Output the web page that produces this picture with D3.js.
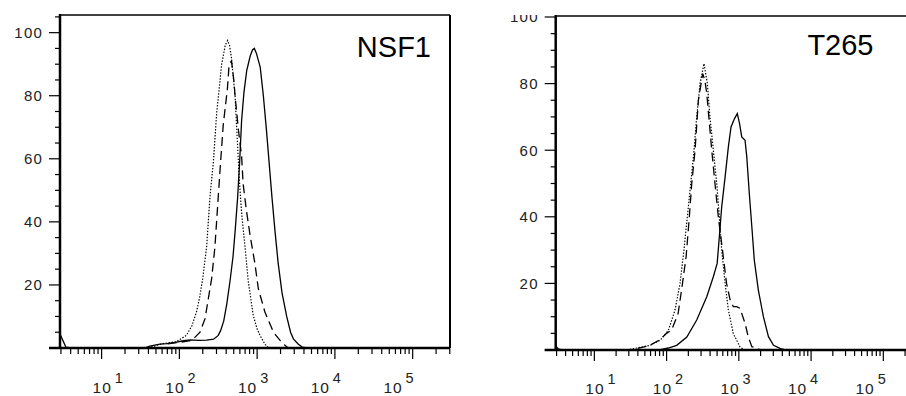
<!DOCTYPE html>
<html>
<head>
<meta charset="utf-8">
<script src="https://cdn.jsdelivr.net/npm/d3@7"></script>
<style>
  html, body { margin: 0; padding: 0; background: #fff; }
  svg { display: block; }
</style>
</head>
<body>
<script>
// ---------------- DATA (x = log10 fluorescence, y = % of max) ----------------
const xTickExponents = [1, 2, 3, 4, 5];
const yTickLabels = [20, 40, 60, 80, 100];
const panelTitles = ["NSF1", "T265"];

const nsf1Solid = [
  [0.463, 4.5], [0.50, 2.5], [0.54, 0.3], [0.60, 0], [1.55, 0], [1.62, 0.6], [1.75, 1.2],
  [1.84, 1.4], [1.95, 1.8], [2.05, 2.3], [2.14, 2.6], [2.25, 2.4], [2.35, 2.5], [2.44, 2.8],
  [2.50, 4.0], [2.53, 5.5], [2.57, 8.5], [2.61, 14], [2.65, 21], [2.69, 29], [2.72, 38],
  [2.75, 48], [2.775, 59], [2.80, 72], [2.83, 81], [2.866, 88], [2.91, 92.5], [2.94, 94.5],
  [2.964, 95], [2.99, 93.5], [3.04, 89], [3.08, 80], [3.12, 69], [3.19, 48], [3.23, 37],
  [3.27, 27], [3.32, 17.5], [3.38, 10], [3.43, 5], [3.466, 2.9], [3.53, 1.2], [3.58, 0.3], [3.65, 0]
];
const nsf1Dashed = [
  [1.85, 1.3], [2.0, 1.8], [2.16, 2.4], [2.265, 5], [2.33, 9.3], [2.415, 22], [2.457, 32],
  [2.50, 48], [2.53, 59], [2.565, 71], [2.617, 82], [2.64, 90], [2.67, 91], [2.70, 85],
  [2.716, 80], [2.76, 69], [2.80, 61], [2.82, 52], [2.86, 44], [2.91, 35.6], [2.97, 27],
  [3.016, 18.7], [3.10, 11.4], [3.21, 5], [3.295, 2.4], [3.35, 1], [3.40, 0]
];
const nsf1Dotted = [
  [1.60, 0], [1.70, 0.8], [1.79, 1.4], [1.96, 2.0], [2.09, 4.0], [2.16, 7], [2.22, 11.4],
  [2.26, 16], [2.30, 22], [2.35, 32], [2.394, 48], [2.437, 59], [2.48, 74.5], [2.544, 90],
  [2.59, 96], [2.62, 97.5], [2.645, 96], [2.67, 92], [2.716, 80], [2.745, 66], [2.77, 53.5],
  [2.80, 43], [2.844, 32], [2.887, 21], [2.95, 10.3], [3.0, 6], [3.037, 4], [3.10, 1.2], [3.15, 0]
];

const t265Solid = [
  [0.466, 1.2], [0.50, 0.3], [0.55, 0], [1.90, 0], [2.024, 0.6], [2.14, 1.4], [2.28, 3.9],
  [2.417, 9], [2.556, 16], [2.647, 22], [2.70, 26], [2.73, 34], [2.763, 43], [2.81, 52],
  [2.855, 61], [2.892, 67], [2.94, 69.5], [2.979, 71], [3.01, 68], [3.04, 64], [3.086, 63],
  [3.11, 58], [3.145, 47], [3.18, 37], [3.214, 27], [3.27, 18], [3.34, 10], [3.41, 4],
  [3.48, 1.4], [3.57, 0.5], [3.65, 0]
];
const t265Dashed = [
  [1.60, 0.5], [1.75, 1.2], [1.90, 3], [2.00, 5], [2.07, 6], [2.16, 11], [2.22, 20],
  [2.27, 28], [2.315, 40], [2.348, 50], [2.394, 60], [2.44, 75], [2.50, 83], [2.53, 81],
  [2.556, 77], [2.625, 60], [2.67, 50], [2.716, 40], [2.785, 28], [2.83, 20], [2.88, 15],
  [2.924, 13], [2.97, 13], [3.017, 12.5], [3.086, 8], [3.13, 4], [3.18, 1], [3.25, 0.5], [3.30, 0]
];
const t265Dotted = [
  [1.45, 0], [1.587, 0.6], [1.77, 1.4], [1.91, 2.9], [2.024, 5.9], [2.117, 12], [2.186, 20],
  [2.24, 30], [2.287, 40], [2.334, 50], [2.38, 60], [2.417, 70], [2.463, 80], [2.518, 86],
  [2.564, 80], [2.60, 70], [2.647, 60], [2.694, 50], [2.73, 40], [2.763, 30], [2.81, 20],
  [2.855, 12], [2.924, 4.9], [3.017, 0.9], [3.08, 0]
];

// ---------------- LAYOUT ----------------
const W = 906, H = 396;
const xDomainLog = [0.465, 5.48];
const panels = [
  { title: panelTitles[0], solid: nsf1Solid, dashed: nsf1Dashed, dotted: nsf1Dotted,
    left: 60, right: 450, top: 15, bottom: 348, yMax: 105.6, titleRight: 431, titleBase: 56.5,
    clipTop: 0, labelBase: 393 },
  { title: panelTitles[1], solid: t265Solid, dashed: t265Dashed, dotted: t265Dotted,
    left: 555.7, right: 918, top: 16, bottom: 350, yMax: 100.3, titleRight: 873.5, titleBase: 55,
    clipTop: 15, labelBase: 394 }
];

const svg = d3.select("body").append("svg").attr("width", W).attr("height", H);
const defs = svg.append("defs");
const font = "'Liberation Sans', Arial, sans-serif";

panels.forEach((p, i) => {
  const x = d3.scaleLog().domain(xDomainLog.map(e => Math.pow(10, e))).range([p.left, p.right]);
  const y = d3.scaleLinear().domain([0, p.yMax]).range([p.bottom, p.top]);

  defs.append("clipPath").attr("id", "pclip" + i)
    .append("rect").attr("x", i === 0 ? 0 : 455).attr("y", p.clipTop)
    .attr("width", i === 0 ? 455 : W - 455).attr("height", H - p.clipTop);
  defs.append("clipPath").attr("id", "plot" + i)
    .append("rect").attr("x", p.left).attr("y", p.top)
    .attr("width", p.right - p.left).attr("height", p.bottom - p.top);

  const g = svg.append("g").attr("clip-path", `url(#pclip${i})`);

  // curves
  const line = d3.line()
    .x(d => x(Math.pow(10, d[0])))
    .y(d => y(d[1]))
    .curve(d3.curveLinear);
  const cg = g.append("g").attr("clip-path", `url(#plot${i})`);
  cg.append("path").datum(p.solid).attr("d", line)
    .attr("fill", "none").attr("stroke", "#000").attr("stroke-width", 1.3);
  cg.append("path").datum(p.dashed).attr("d", line)
    .attr("fill", "none").attr("stroke", "#000").attr("stroke-width", 1.3)
    .attr("stroke-dasharray", "9,5");
  cg.append("path").datum(p.dotted).attr("d", line)
    .attr("fill", "none").attr("stroke", "#000").attr("stroke-width", 1.2)
    .attr("stroke-dasharray", "1.4,1.6");

  // frame
  g.append("line").attr("x1", p.left).attr("x2", p.right).attr("y1", p.top).attr("y2", p.top)
    .attr("stroke", "#000").attr("stroke-width", 1.6);
  g.append("line").attr("x1", p.right).attr("x2", p.right).attr("y1", p.top).attr("y2", p.bottom)
    .attr("stroke", "#000").attr("stroke-width", 2);

  // y ticks (every 5, major every 20)
  const yTicks = d3.range(0, p.yMax + 0.001, 5);
  g.selectAll(".yt").data(yTicks).enter().append("line")
    .attr("x1", d => p.left - (d % 20 === 0 ? 11 : 5)).attr("x2", p.left)
    .attr("y1", d => y(d)).attr("y2", d => y(d))
    .attr("stroke", "#000").attr("stroke-width", 1.2);
  g.selectAll(".yl").data(yTickLabels).enter().append("text")
    .attr("x", p.left - 17).attr("y", d => y(d)).attr("dy", "0.36em")
    .attr("text-anchor", "end")
    .style("font-family", font)
    .style("font-size", "15px").style("letter-spacing", "1.2px")
    .attr("fill", "#222").text(d => d);

  // x ticks (log, minor at 2..9)
  const xTicks = [];
  for (let k = 0; k <= 6; k++) {
    for (let m = 1; m <= 9; m++) {
      const v = m * Math.pow(10, k);
      const lv = Math.log10(v);
      if (lv >= xDomainLog[0] - 1e-9 && lv <= xDomainLog[1]) xTicks.push({ v, major: m === 1 });
    }
  }
  g.selectAll(".xt").data(xTicks).enter().append("line")
    .attr("x1", d => x(d.v)).attr("x2", d => x(d.v))
    .attr("y1", p.bottom).attr("y2", d => p.bottom + (d.major ? 11 : 6))
    .attr("stroke", "#000").attr("stroke-width", 1.2);

  // axis lines
  g.append("line").attr("x1", p.left - 11).attr("x2", p.right).attr("y1", p.bottom).attr("y2", p.bottom)
    .attr("stroke", "#000").attr("stroke-width", 2.5);
  g.append("line").attr("x1", p.left).attr("x2", p.left).attr("y1", p.top - 1).attr("y2", p.bottom)
    .attr("stroke", "#000").attr("stroke-width", 2.5);

  // x tick labels 10^k (label spacing slightly tighter than decade spacing, as in the source)
  const decade = x(100) - x(10);
  const labelX = d3.scaleLinear().domain([1, 5])
    .range([x(10) + 0.6, x(10) + 0.6 + 4 * decade * 0.935]);
  const lab = g.selectAll(".xl").data(xTickExponents).enter().append("g");
  lab.append("text")
    .attr("x", d => labelX(d)).attr("y", p.labelBase)
    .attr("text-anchor", "middle")
    .style("font-family", font)
    .style("font-size", "15.5px").style("letter-spacing", "1px")
    .attr("fill", "#222").text("10");
  lab.append("text")
    .attr("x", d => labelX(d) + 12.5).attr("y", p.labelBase - 10.5)
    .attr("text-anchor", "start")
    .style("font-family", font)
    .style("font-size", "14.5px")
    .attr("fill", "#222").text(d => d);

  // title
  g.append("text").attr("x", p.titleRight).attr("y", p.titleBase)
    .attr("text-anchor", "end")
    .style("font-family", font)
    .style("font-size", "29px")
    .attr("fill", "#000").text(p.title);
});
</script>
</body>
</html>
